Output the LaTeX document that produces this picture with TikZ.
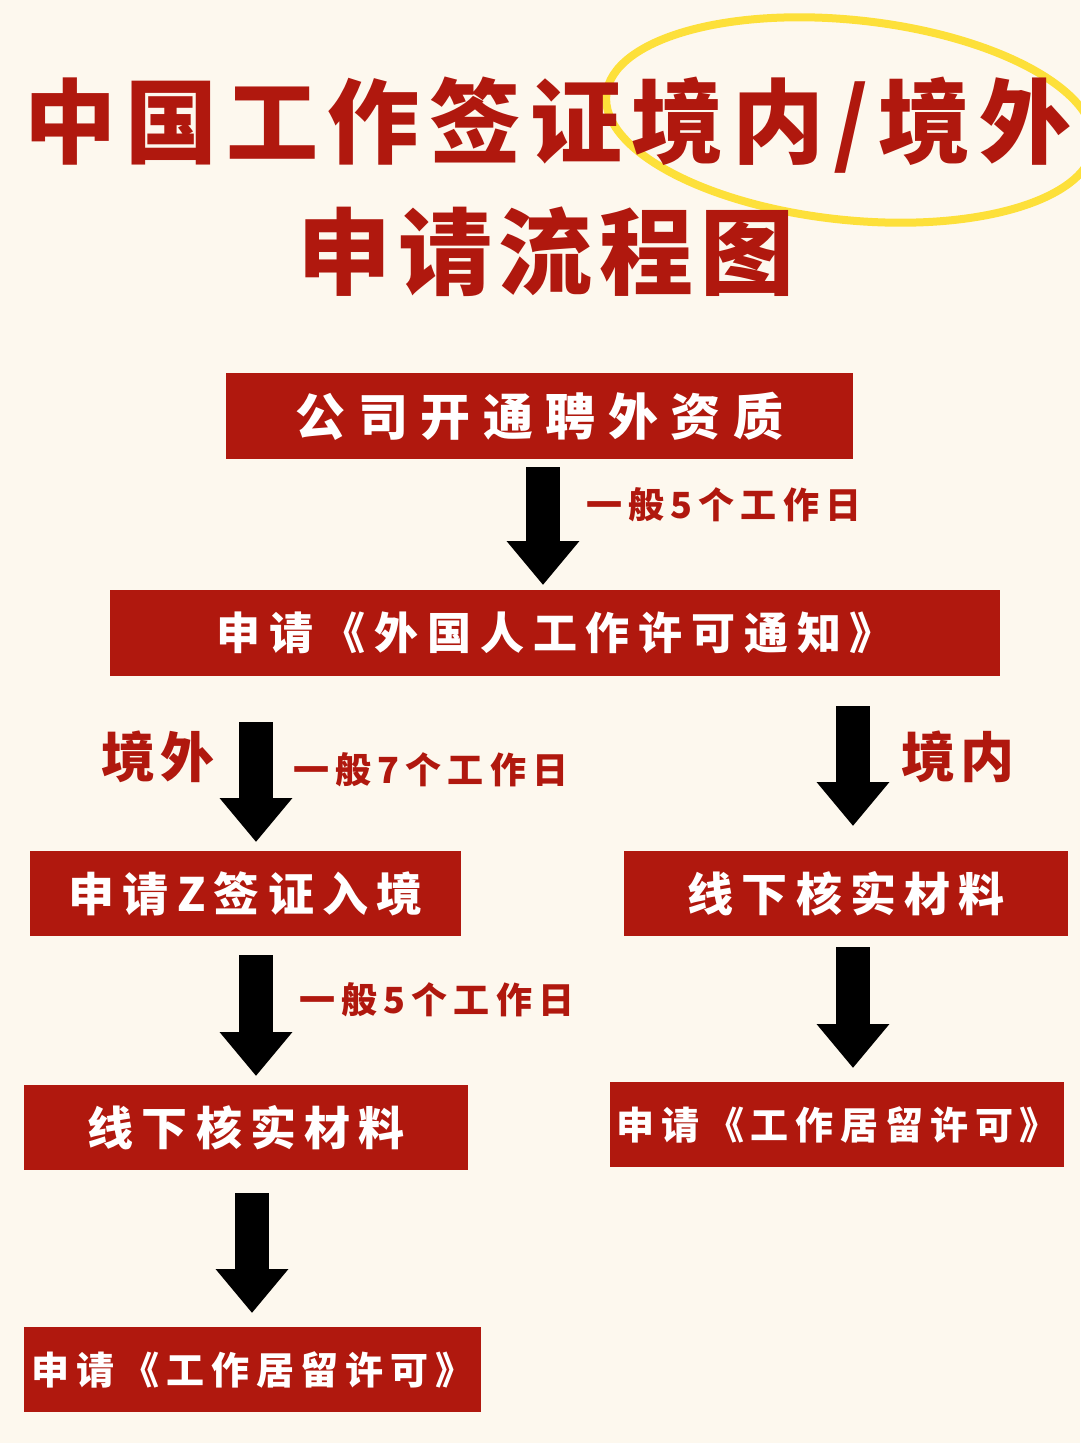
\documentclass[tikz,border=0pt]{standalone}
\usepackage{fontspec}
\newfontfamily\cjk{Noto Sans CJK SC}
\usetikzlibrary{arrows.meta}
\definecolor{bgcream}{HTML}{FDF8EE}
\definecolor{boxred}{HTML}{B0180E}
\definecolor{hiyellow}{HTML}{FDE03A}
\newcommand{\spacedcjk}[2]{\cjk\bfseries\fontsize{#1}{#1}\selectfont\addfontfeature{LetterSpace=#2}}
\tikzset{
  stepbox/.style={fill=boxred, text=white, inner sep=0pt, anchor=north west},
  bigarrow/.style={line width=34pt, -{Triangle[length=44pt,width=70pt]}},
  note/.style={text=boxred, font=\spacedcjk{36}{17}, anchor=west}
}
\begin{document}
\begin{tikzpicture}[x=1pt,y=-1pt]
	\fill[bgcream] (0,0) rectangle (1080,1443);
	\useasboundingbox (0,0) rectangle (1080,1443);

	% title
	\draw[hiyellow, line width=8pt, rotate around={-6:(850,120)}] (850,120) ellipse (245 and 100);
	\node[text=boxred, font=\spacedcjk{92}{10}](title1) at (548,125){中国工作签证境内/境外};
	\node[text=boxred, font=\spacedcjk{94}{7}](title2) at (546,252){申请流程图};

	% boxes
	\node[stepbox, minimum width=627pt, minimum height=86pt, font=\spacedcjk{50}{25}](qualify) at (226,373){公司开通聘外资质};
	\node[stepbox, minimum width=890pt, minimum height=86pt, font=\spacedcjk{44}{20}](notice) at (110,590){申请《外国人工作许可通知》};
	\node[stepbox, minimum width=431pt, minimum height=85pt, font=\spacedcjk{46}{18}](zvisa) at (30,851){申请Z签证入境};
	\node[stepbox, minimum width=444pt, minimum height=85pt, font=\spacedcjk{46}{18}](checkR) at (624,851){线下核实材料};
	\node[stepbox, minimum width=444pt, minimum height=85pt, font=\spacedcjk{46}{18}](checkL) at (24,1085){线下核实材料};
	\node[stepbox, minimum width=454pt, minimum height=85pt, font=\spacedcjk{38}{18}](permitR) at (610,1082){申请《工作居留许可》};
	\node[stepbox, minimum width=457pt, minimum height=85pt, font=\spacedcjk{38}{18}](permitL) at (24,1327){申请《工作居留许可》};

	% arrow ends
	\coordinate (a1s) at (543,467); \coordinate (a1e) at (543,585);
	\coordinate (a2s) at (256,722); \coordinate (a2e) at (256,842);
	\coordinate (a3s) at (853,706); \coordinate (a3e) at (853,826);
	\coordinate (a4s) at (256,955); \coordinate (a4e) at (256,1076);
	\coordinate (a5s) at (853,947); \coordinate (a5e) at (853,1068);
	\coordinate (a6s) at (252,1193); \coordinate (a6e) at (252,1313);
	\draw[bigarrow] (a1s) -- (a1e);
	\draw[bigarrow] (a2s) -- (a2e);
	\draw[bigarrow] (a3s) -- (a3e);
	\draw[bigarrow] (a4s) -- (a4e);
	\draw[bigarrow] (a5s) -- (a5e);
	\draw[bigarrow] (a6s) -- (a6e);

	% labels
	\node[note](days1) at (583,505){一般5个工作日};
	\node[note](days2) at (290,770){一般7个工作日};
	\node[note](days3) at (296,1000){一般5个工作日};
	\node[note, font=\spacedcjk{54}{10}](abroad) at (98,757){境外};
	\node[note, font=\spacedcjk{54}{10}](inland) at (898,757){境内};
\end{tikzpicture}
\end{document}
